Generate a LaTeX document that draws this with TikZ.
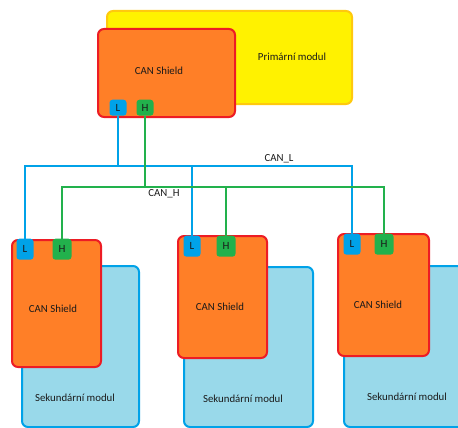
\documentclass[tikz,border=0pt]{standalone}
\usepackage{fontspec}
\setmainfont{Carlito}
\definecolor{modyellow}{HTML}{FFF200}
\definecolor{modyellowedge}{HTML}{FFC90E}
\definecolor{shieldfill}{HTML}{FF7F27}
\definecolor{shieldedge}{HTML}{ED1C24}
\definecolor{secfill}{HTML}{99D9EA}
\definecolor{busblue}{HTML}{00A2E8}
\definecolor{busgreen}{HTML}{22B14C}
\definecolor{ink}{HTML}{1A1A1A}
\begin{document}
\begin{tikzpicture}[x=1pt,y=-1pt,
  boxbase/.style={draw, line width=2pt, rounded corners=6pt, inner sep=0pt, anchor=north west},
  primary/.style={boxbase, fill=modyellow, draw=modyellowedge},
  shield/.style={boxbase, fill=shieldfill, draw=shieldedge},
  secondary/.style={boxbase, fill=secfill, draw=busblue},
  padbase/.style={rounded corners=3pt, inner sep=0pt, minimum height=21pt, anchor=north, text=ink, font=\fontsize{11}{13}\selectfont},
  padL/.style={padbase, fill=busblue, minimum width=17pt},
  padH/.style={padbase, fill=busgreen, minimum width=19pt},
  txt/.style={text=ink, font=\fontsize{10.8}{13}\selectfont, inner sep=0pt},
  canl/.style={draw=busblue, line width=2pt},
  canh/.style={draw=busgreen, line width=2pt}]
\useasboundingbox (0,0) rectangle (458,428);

% primary module with its shield
\node[primary, minimum width=245pt, minimum height=93pt] (prim) at (106,10) {};
\node[shield, minimum width=137pt, minimum height=88pt] (sh0) at (97,28) {};

% secondary modules
\node[secondary, minimum width=117pt, minimum height=161pt] (sec1) at (21,265) {};
\node[secondary, minimum width=129pt, minimum height=160pt] (sec2) at (183,266) {};
\node[secondary, minimum width=130pt, minimum height=161pt] (sec3) at (343,265) {};

% shields on the secondary modules
\node[shield, minimum width=89pt, minimum height=127pt] (sh1) at (11,239) {};
\node[shield, minimum width=89pt, minimum height=122pt] (sh2) at (177,235) {};
\node[shield, minimum width=91pt, minimum height=122pt] (sh3) at (337,233) {};

% connector pads
\node[padL, minimum height=16pt] (p0L) at (118,99.5) {L};
\node[padH, minimum width=17pt, minimum height=16pt] (p0H) at (145,99.5) {H};
\node[padL] (p1L) at (25,238.5) {L};
\node[padH] (p1H) at (62,238.5) {H};
\node[padL] (p2L) at (192,235.5) {L};
\node[padH] (p2H) at (226,235.5) {H};
\node[padL] (p3L) at (352,233.5) {L};
\node[padH] (p3H) at (384,233.5) {H};

% bus lines
\coordinate (busL) at (0,166);
\coordinate (busH) at (0,187);
\draw[canl] (p0L.south) -- (p0L.south |- busL);
\draw[canl] (p1L.north) -- (p1L.north |- busL) -- (p3L.north |- busL) -- (p3L.north);
\draw[canl] (p2L.north) -- (p2L.north |- busL);
\draw[canh] (p0H.south) -- (p0H.south |- busH);
\draw[canh] (p1H.north) -- (p1H.north |- busH) -- (p3H.north |- busH) -- (p3H.north);
\draw[canh] (p2H.north) -- (p2H.north |- busH);

% labels
\node[txt] (primlbl) at (292,57) {Primární modul};
\node[txt] (sh0lbl) at (159,71) {CAN Shield};
\node[txt] (sh1lbl) at (53,309) {CAN Shield};
\node[txt] (sh2lbl) at (220,307) {CAN Shield};
\node[txt] (sh3lbl) at (378,305) {CAN Shield};
\node[txt] (sec1lbl) at (75,398) {Sekundární modul};
\node[txt] (sec2lbl) at (243,399) {Sekundární modul};
\node[txt] (sec3lbl) at (407,397) {Sekundární modul};
\node[txt] (canllbl) at (279,159) {CAN\_L};
\node[txt] (canhlbl) at (164,194) {CAN\_H};
\end{tikzpicture}
\end{document}
